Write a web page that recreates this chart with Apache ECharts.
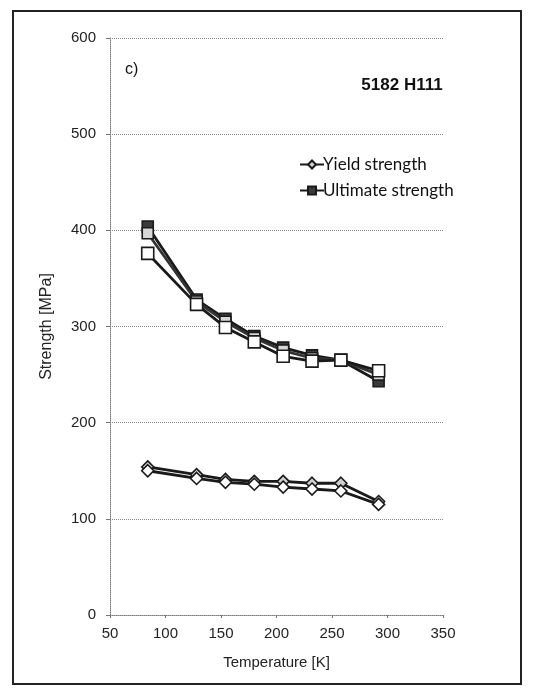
<!DOCTYPE html>
<html>
<head>
<meta charset="utf-8">
<script src="https://cdn.jsdelivr.net/npm/echarts@6/dist/echarts.min.js"></script>
<style>
  html, body { margin: 0; padding: 0; background: #fff; }
  #chart { width: 545px; height: 693px; }
</style>
</head>
<body>
<div id="chart"></div>
<script>
// Test temperatures [K]
const temperatures = [84, 128, 154, 180, 206, 232, 258, 292];

// Ultimate strength [MPa], three specimens
const ultimateA = [404, 328, 308, 290, 278, 270, 265, 243];
const ultimateB = [397, 326, 305, 288, 275, 267, 265, 250];
const ultimateC = [376, 323, 299, 284, 269, 264, 265, 254];

// Yield strength [MPa], two specimens
const yieldA = [154, 146, 141, 139, 139, 137, 137, 118];
const yieldB = [150, 142, 138, 136, 133, 131, 129, 115];

const xTicks = [50, 100, 150, 200, 250, 300, 350];
const yTicks = [0, 100, 200, 300, 400, 500, 600];

const pairs = (ys) => temperatures.map((t, i) => [t, ys[i]]);

const font = '"Liberation Sans", Arial, sans-serif';
const legendFont = 'Lato, "Open Sans", sans-serif';

function lineSeries(name, data, symbol, size, fill, lineColor) {
  return {
    type: 'line',
    name: name,
    data: pairs(data),
    symbol: symbol,
    symbolSize: size,
    showAllSymbol: true,
    lineStyle: { color: lineColor, width: 2.8 },
    itemStyle: { color: fill, borderColor: '#1a1a1a', borderWidth: 1.6 },
    z: 3
  };
}

const chart = echarts.init(document.getElementById('chart'), null, { renderer: 'canvas' });

chart.setOption({
  animation: false,
  backgroundColor: '#fff',
  grid: { left: 110, right: 102, top: 38, bottom: 78, containLabel: false },
  title: [
    {
      text: '5182 H111',
      left: 397, top: 72, textAlign: 'center',
      textStyle: { fontFamily: font, fontSize: 17, fontWeight: 'bold', color: '#111' }
    },
    {
      text: 'c)',
      left: 120, top: 57,
      textStyle: { fontFamily: font, fontSize: 16, fontWeight: 'normal', color: '#111' }
    }
  ],
  legend: {
    data: ['Yield strength', 'Ultimate strength'],
    orient: 'vertical',
    left: 294, top: 151,
    itemWidth: 24, itemHeight: 10, itemGap: 9,
    textStyle: { fontFamily: legendFont, fontSize: 17, color: '#111', padding: [0, 0, 0, -6] }
  },
  xAxis: {
    type: 'value',
    min: xTicks[0], max: xTicks[xTicks.length - 1], interval: 50,
    name: 'Temperature [K]', nameLocation: 'middle', nameGap: 40,
    nameTextStyle: { fontFamily: font, fontSize: 15, color: '#222' },
    axisLine: { show: true, lineStyle: { color: '#777', type: 'dotted', width: 1 } },
    axisTick: { show: true, length: 3, lineStyle: { color: '#777' } },
    axisLabel: { fontFamily: font, fontSize: 15, color: '#222', margin: 11 },
    splitLine: { show: false }
  },
  yAxis: {
    type: 'value',
    min: yTicks[0], max: yTicks[yTicks.length - 1], interval: 100,
    name: 'Strength [MPa]', nameLocation: 'middle', nameGap: 55, nameRotate: 90,
    nameTextStyle: { fontFamily: font, fontSize: 16, color: '#222' },
    axisLine: { show: true, lineStyle: { color: '#777', type: 'dotted', width: 1 } },
    axisTick: { show: true, length: 4, lineStyle: { color: '#777' } },
    axisLabel: { fontFamily: font, fontSize: 15, color: '#222', margin: 14 },
    splitLine: { show: true, lineStyle: { color: '#888', type: 'dotted', width: 1 } }
  },
  series: [
    lineSeries('Ultimate strength', ultimateA, 'rect', 11, '#3a3a3a', '#1a1a1a'),
    lineSeries('Ultimate strength', ultimateB, 'rect', 11, '#d8d8d8', '#333'),
    lineSeries('Ultimate strength', ultimateC, 'rect', 12, '#ffffff', '#1a1a1a'),
    lineSeries('Yield strength', yieldA, 'diamond', 12, '#cfcfcf', '#1a1a1a'),
    lineSeries('Yield strength', yieldB, 'diamond', 12, '#ffffff', '#1a1a1a')
  ],
  graphic: [
    {
      type: 'rect',
      shape: { x: 13, y: 11, width: 508, height: 673 },
      style: { fill: 'none', stroke: '#222', lineWidth: 2 },
      silent: true, z: 0
    }
  ]
});
</script>
</body>
</html>
